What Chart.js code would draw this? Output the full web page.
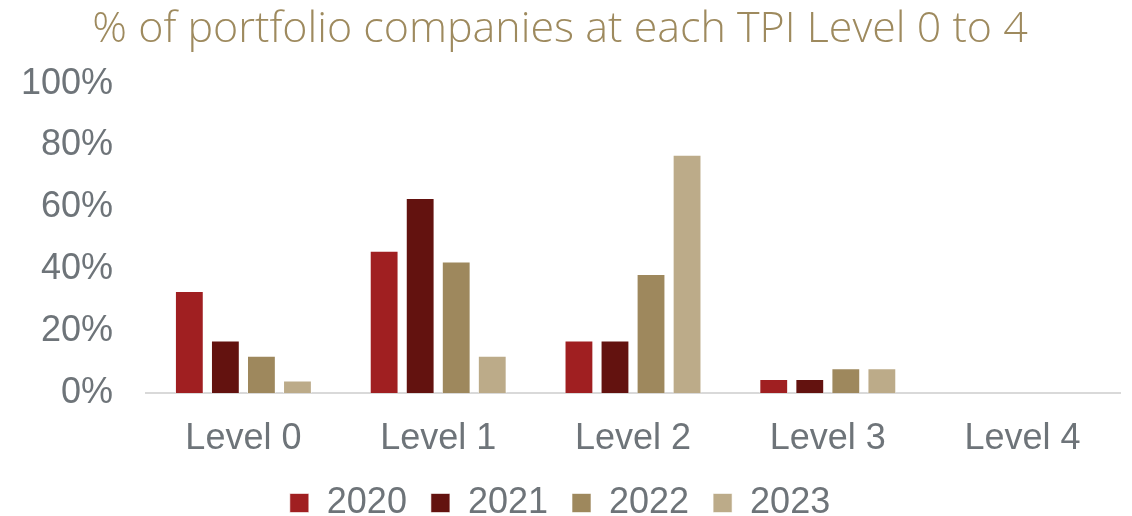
<!DOCTYPE html>
<html>
<head>
<meta charset="utf-8">
<script src="https://cdn.jsdelivr.net/npm/chart.js@4"></script>
<style>
  html, body { margin: 0; padding: 0; background: #fff; }
  #wrap { width: 1132px; height: 516px; }
</style>
</head>
<body>
<div id="wrap"><canvas id="tpiChart" width="1132" height="516"></canvas></div>
<script>
const levels = ['Level 0', 'Level 1', 'Level 2', 'Level 3', 'Level 4'];
const years = ['2020', '2021', '2022', '2023'];
const values2020 = [33, 46, 17, 4.5, 0];
const values2021 = [17, 63, 17, 4.5, 0];
const values2022 = [12, 42.5, 38.5, 8, 0];
const values2023 = [4, 12, 77, 8, 0];
const colours = ['#A01F21', '#63120F', '#9E885D', '#BCAB89'];

document.addEventListener('DOMContentLoaded', () => {
    const ctx = document.getElementById('tpiChart').getContext('2d');
    const series = [values2020, values2021, values2022, values2023];
    new Chart(ctx, {
        type: 'bar',
        data: {
            labels: levels,
            datasets: years.map((y, i) => ({
                label: y,
                data: series[i],
                backgroundColor: colours[i],
                borderColor: 'rgba(255,255,255,0.6)',
                borderWidth: 1,
                categoryPercentage: 0.74,
                barPercentage: 0.8
            }))
        },
        options: {
            responsive: false,
            animation: false,
            layout: { padding: { left: 0, right: 12, top: 0, bottom: -15 } },
            plugins: {
                title: {
                    display: true,
                    text: '% of portfolio companies at each TPI Level 0 to 4',
                    color: '#9E8A5E',
                    font: { family: 'Open Sans', size: 43, weight: '300' },
                    padding: { top: 4, bottom: 28 }
                },
                legend: {
                    position: 'bottom',
                    labels: {
                        color: '#6E7479',
                        font: { family: 'Liberation Sans', size: 36 },
                        boxWidth: 19,
                        boxHeight: 19,
                        padding: 24
                    }
                },
                tooltip: { enabled: false }
            },
            scales: {
                x: {
                    grid: { display: false },
                    border: { color: '#D9D9D9', width: 2 },
                    ticks: {
                        color: '#6E7479',
                        font: { family: 'Liberation Sans', size: 36 },
                        padding: 16
                    },
                    afterFit: s => { s.height = 68; }
                },
                y: {
                    min: 0,
                    max: 100,
                    grid: { display: false },
                    border: { display: false },
                    ticks: {
                        stepSize: 20,
                        color: '#6E7479',
                        font: { family: 'Liberation Sans', size: 36 },
                        padding: 25,
                        callback: v => v + '%'
                    },
                    afterFit: s => { s.width = 146; }
                }
            }
        }
    });
});
</script>
</body>
</html>
